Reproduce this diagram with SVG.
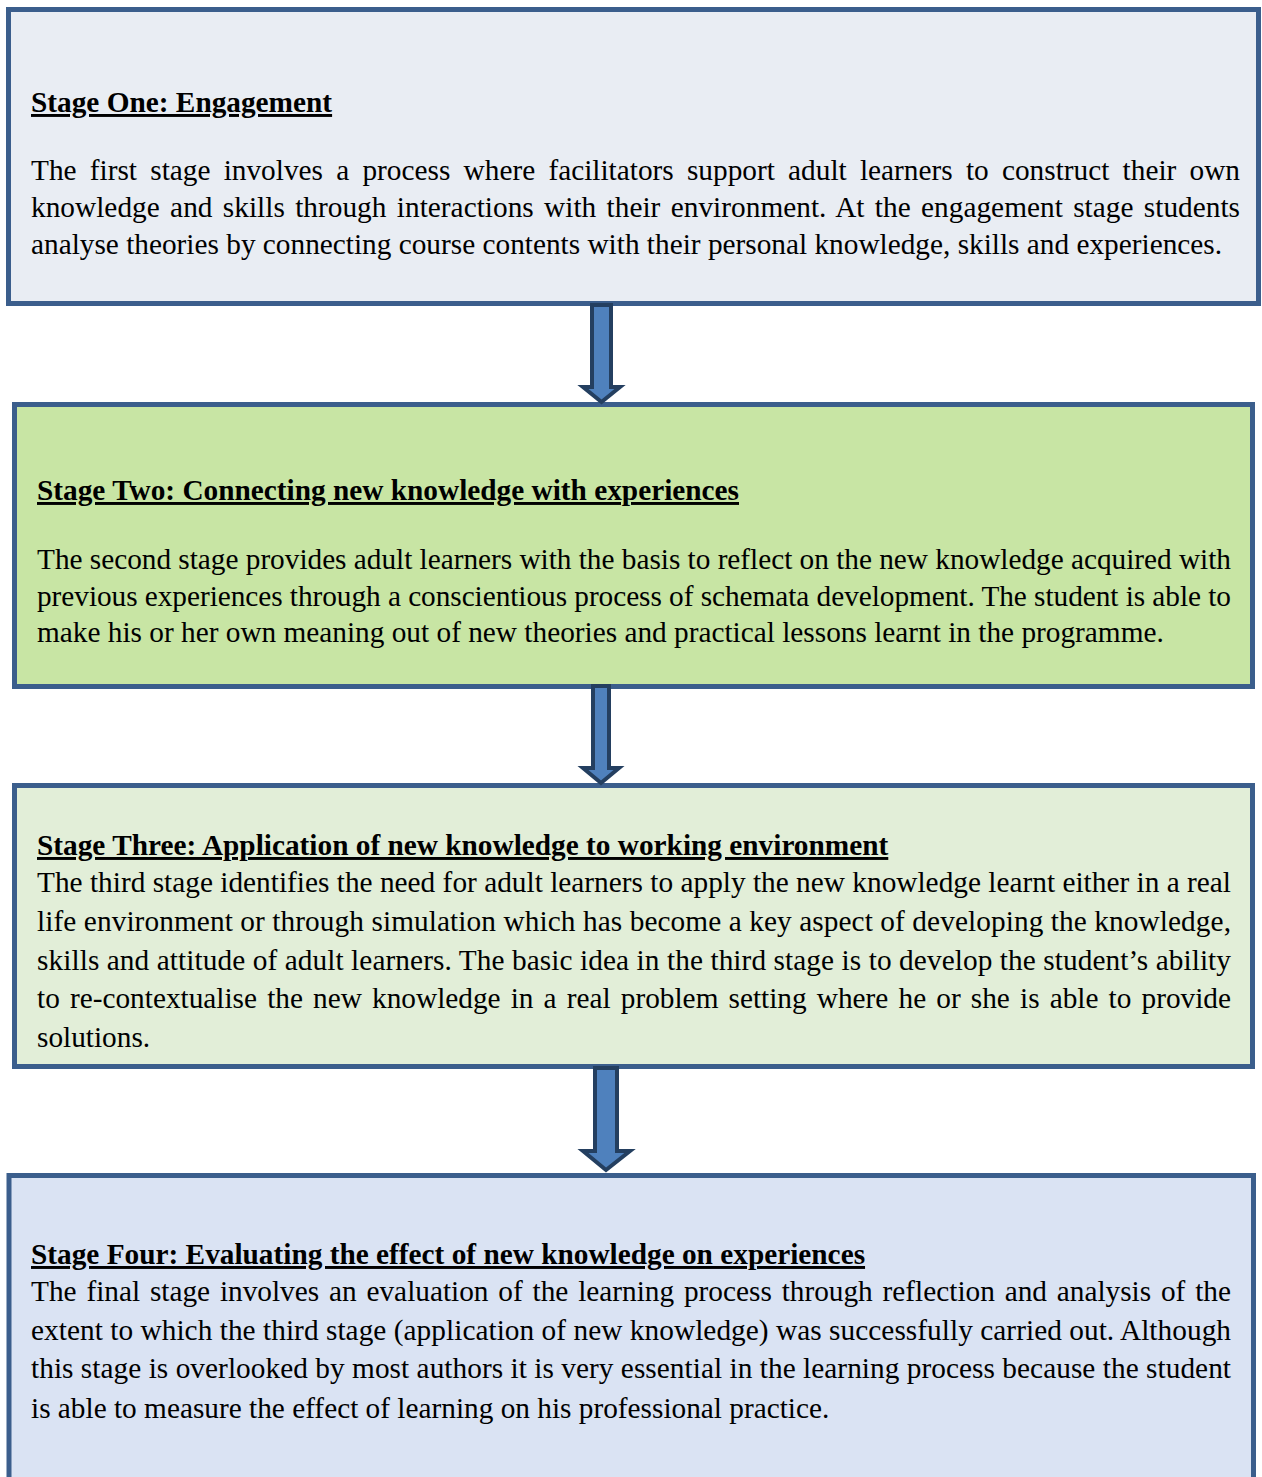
<svg xmlns="http://www.w3.org/2000/svg" width="1262" height="1477" viewBox="0 0 1262 1477">
  <style>
    .box { stroke: #3b5e8c; stroke-width: 5; }
    text { font-family: "Liberation Serif", "Times New Roman", serif; font-size: 29.3px; fill: #000; }
    .head { font-weight: bold; text-decoration: underline; }
    .arrow { fill: #4f81bd; stroke: #243f60; stroke-width: 4; stroke-linejoin: miter; }
  </style>
  <rect width="1262" height="1477" fill="#ffffff"/>

  <g id="stage-one">
    <rect class="box" x="8.5" y="9.5" width="1250" height="294" fill="#e9edf3"/>
    <text class="head" x="31" y="112">Stage One: Engagement</text>
    <text x="31" y="180" textLength="1209" lengthAdjust="spacing" word-spacing="5.9">The first stage involves a process where facilitators support adult learners to construct their own</text>
    <text x="31" y="217" textLength="1209" lengthAdjust="spacing" word-spacing="3">knowledge and skills through interactions with their environment. At the engagement stage students</text>
    <text x="31" y="254">analyse theories by connecting course contents with their personal knowledge, skills and experiences.</text>
  </g>

  <g id="stage-two">
    <rect class="box" x="14.5" y="404.5" width="1238" height="282" fill="#c8e5a4"/>
    <text class="head" x="37" y="500">Stage Two: Connecting new knowledge with experiences</text>
    <text x="37" y="569" textLength="1194" lengthAdjust="spacing">The second stage provides adult learners with the basis to reflect on the new knowledge acquired with</text>
    <text x="37" y="606" textLength="1194" lengthAdjust="spacing">previous experiences through a conscientious process of schemata development. The student is able to</text>
    <text x="37" y="642">make his or her own meaning out of new theories and practical lessons learnt in the programme.</text>
  </g>

  <g id="stage-three">
    <rect class="box" x="14.5" y="785.5" width="1238" height="281" fill="#e2eed8"/>
    <text class="head" x="37" y="855">Stage Three: Application of new knowledge to working environment</text>
    <text x="37" y="892" textLength="1194" lengthAdjust="spacing">The third stage identifies the need for adult learners to apply the new knowledge learnt either in a real</text>
    <text x="37" y="931" textLength="1194" lengthAdjust="spacing">life environment or through simulation which has become a key aspect of developing the knowledge,</text>
    <text x="37" y="970" textLength="1194" lengthAdjust="spacing">skills and attitude of adult learners. The basic idea in the third stage is to develop the student’s ability</text>
    <text x="37" y="1008" textLength="1194" lengthAdjust="spacing" word-spacing="2.8">to re-contextualise the new knowledge in a real problem setting where he or she is able to provide</text>
    <text x="37" y="1047">solutions.</text>
  </g>

  <g id="stage-four">
    <rect class="box" x="9" y="1175.5" width="1244.5" height="320" fill="#dae3f3"/>
    <text class="head" x="31" y="1264">Stage Four: Evaluating the effect of new knowledge on experiences</text>
    <text x="31" y="1301" textLength="1200" lengthAdjust="spacing" word-spacing="2.5">The final stage involves an evaluation of the learning process through reflection and analysis of the</text>
    <text x="31" y="1340" textLength="1200" lengthAdjust="spacing">extent to which the third stage (application of new knowledge) was successfully carried out. Although</text>
    <text x="31" y="1378" textLength="1200" lengthAdjust="spacing">this stage is overlooked by most authors it is very essential in the learning process because the student</text>
    <text x="31" y="1418">is able to measure the effect of learning on his professional practice.</text>
  </g>

  <!-- block arrows between stages -->
  <g id="connectors">
    <polygon class="arrow" points="592,305 611,305 611,387 620,387 601.5,402 583,387 592,387"/>
    <polygon class="arrow" points="593,686 609,686 609,768 619,768 601,783 583,768 593,768"/>
    <polygon class="arrow" points="595,1068 617,1068 617,1151 630,1151 606,1170 583,1151 595,1151"/>
  </g>
</svg>
